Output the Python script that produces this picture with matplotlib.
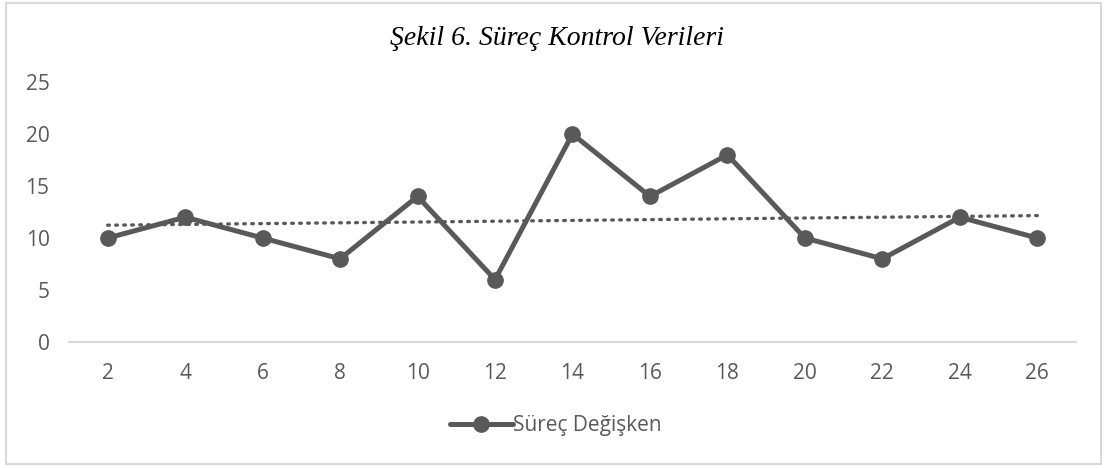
import numpy as np
import matplotlib.pyplot as plt
from matplotlib.patches import Rectangle

# chart data
categories = ["2", "4", "6", "8", "10", "12", "14", "16", "18", "20", "22", "24", "26"]
surec_values = [10, 12, 10, 8, 14, 6, 20, 14, 18, 10, 8, 12, 10]
y_ticks = [0, 5, 10, 15, 20, 25]

title_text = "Şekil 6. Süreç Kontrol Verileri"
series_name = "Süreç Değişken"

GREY = "#595959"
LIGHT = "#D9D9D9"

plt.rcParams['font.family'] = ['Open Sans', 'DejaVu Sans']

fig = plt.figure(figsize=(11.07, 4.68), dpi=100)
ax = fig.add_axes([0.0623, 0.2692, 0.9097, 0.5556])

x = np.arange(len(categories))
ax.plot(x, surec_values, color=GREY, linewidth=3.6, marker="o",
        markersize=11, label=series_name, solid_capstyle="round", zorder=3)

# linear trendline like Excel's
slope, intercept = np.polyfit(x, surec_values, 1)
ax.plot(x, slope * x + intercept, color=GREY, linewidth=2.4,
        linestyle=(0, (0.5, 1.9)), dash_capstyle="round", zorder=2)

ax.set_xlim(-0.5, len(categories) - 0.5)
ax.set_ylim(0, 25)
ax.set_xticks(x)
ax.set_xticklabels(categories)
ax.set_yticks(y_ticks)

for side in ["top", "right", "left"]:
    ax.spines[side].set_visible(False)
ax.spines["bottom"].set_color(LIGHT)
ax.spines["bottom"].set_linewidth(1.5)
ax.tick_params(axis="both", length=0, labelsize=15, labelcolor=GREY)
ax.tick_params(axis="x", pad=15)
ax.tick_params(axis="y", pad=14)

fig.text(0.503, 0.917, title_text, ha="center", va="center", fontsize=20,
         style="italic", family="Liberation Serif", color="black")

leg = fig.legend(loc="center", bbox_to_anchor=(0.502, 0.09), frameon=False,
                 fontsize=15, handlelength=3.0, handletextpad=0.0,
                 labelcolor=GREY)

# chart border
fig.add_artist(Rectangle((0.005, 0.009), 0.99, 0.985, transform=fig.transFigure,
                         fill=False, edgecolor=LIGHT, linewidth=1.5))

fig.savefig("out.png", dpi=100)
